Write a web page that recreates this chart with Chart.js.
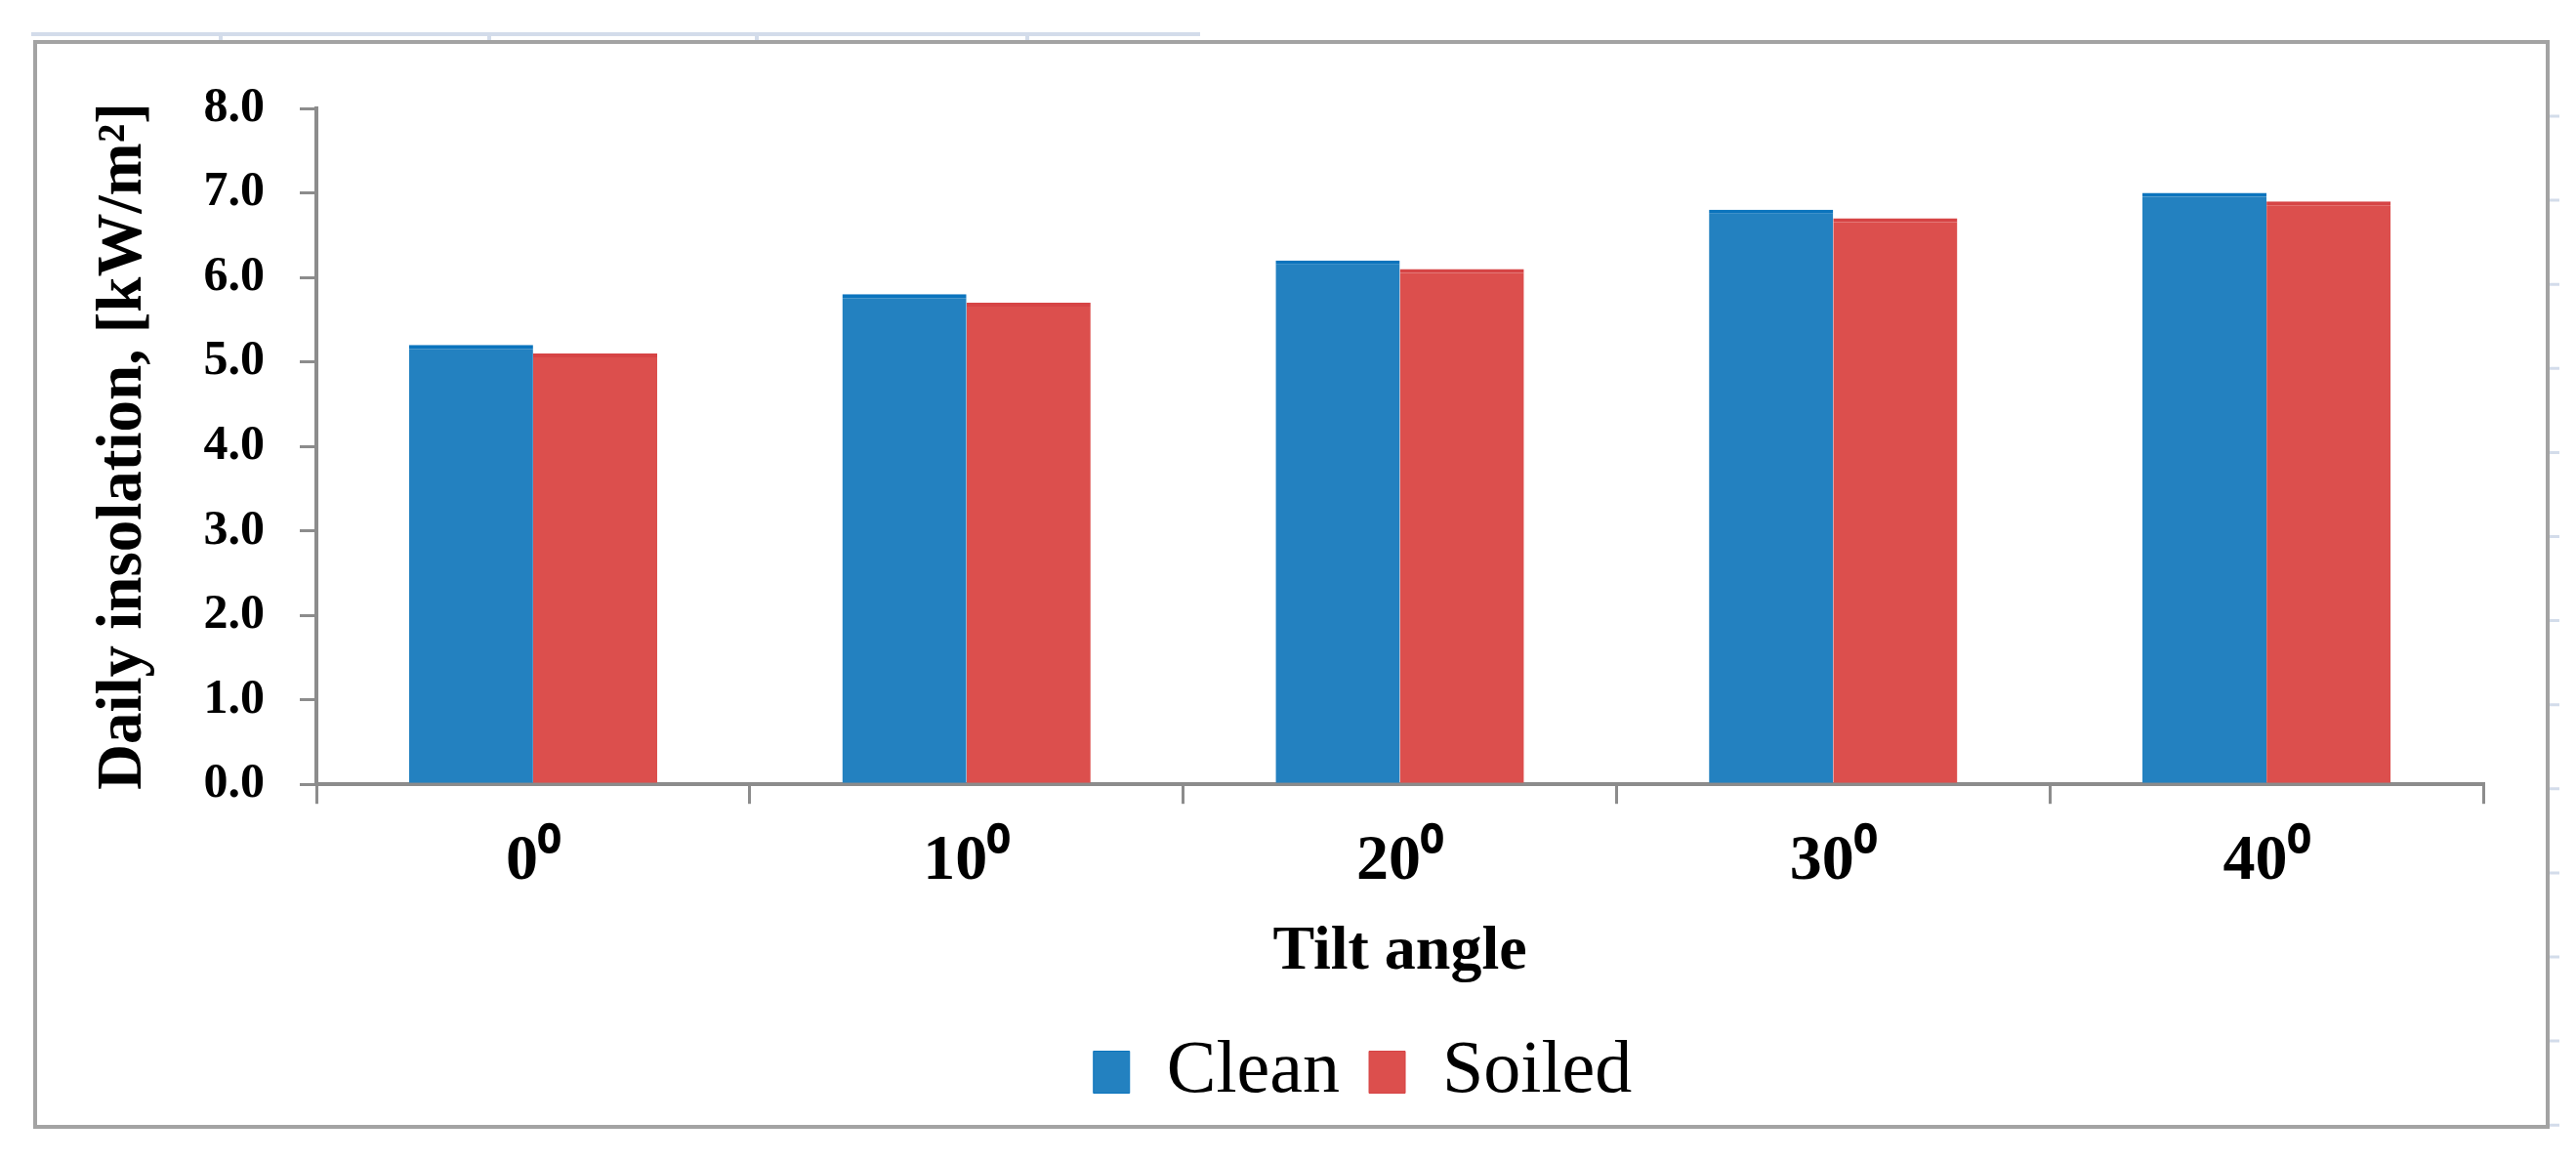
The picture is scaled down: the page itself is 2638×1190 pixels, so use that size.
<!DOCTYPE html>
<html>
<head>
<meta charset="utf-8">
<script src="https://cdn.jsdelivr.net/npm/chart.js@4.4.1/dist/chart.umd.min.js"></script>
<style>
  html, body { margin: 0; padding: 0; background: #fff; }
  canvas { display: block; }
</style>
</head>
<body>
<canvas id="insolationChart" width="2638" height="1190"></canvas>
<script>
/* Data */
const tiltAngles = ['0⁰', '10⁰', '20⁰', '30⁰', '40⁰'];
const cleanValues = [5.2, 5.8, 6.2, 6.8, 7.0];
const soiledValues = [5.1, 5.7, 6.1, 6.7, 6.9];
const yTickLabels = ['0.0', '1.0', '2.0', '3.0', '4.0', '5.0', '6.0', '7.0', '8.0'];

const serif = "'Liberation Serif', 'Times New Roman', serif";
const axisGray = '#8c8c8c';

/* Frame round the chart, plus the faint leftover lines of the source sheet */
const framePlugin = {
  id: 'frame',
  afterLayout(chart) {
    // legend sits a bit left of the plot centre in the original
    chart.legend.left -= 38;
    chart.legend.right -= 38;
  },
  beforeDraw(chart) {
    const ctx = chart.ctx;
    ctx.save();
    ctx.fillStyle = '#fff';
    ctx.fillRect(0, 0, chart.width, chart.height);

    // faint top line with little ticks
    ctx.strokeStyle = '#d3dcea';
    ctx.lineWidth = 4;
    ctx.beginPath();
    ctx.moveTo(32, 35);
    ctx.lineTo(1229, 35);
    [226, 501, 775, 1052].forEach(x => {
      ctx.moveTo(x, 35);
      ctx.lineTo(x, 41);
    });
    ctx.stroke();

    // faint ticks outside the right edge
    ctx.lineWidth = 3;
    ctx.beginPath();
    for (let y = 119; y < 1160; y += 86.1) {
      ctx.moveTo(2611, y);
      ctx.lineTo(2621, y);
    }
    ctx.stroke();

    // grey frame
    ctx.strokeStyle = '#a3a3a3';
    ctx.lineWidth = 4;
    ctx.strokeRect(36, 43, 2573, 1111);
    ctx.restore();
  }
};

const ctx = document.getElementById('insolationChart').getContext('2d');

new Chart(ctx, {
  type: 'bar',
  data: {
    labels: tiltAngles,
    datasets: [
      {
        label: 'Clean',
        data: cleanValues,
        backgroundColor: '#2381c0',
        borderColor: '#0b74bd',
        borderWidth: { top: 4, left: 0, right: 0, bottom: 0 },
        borderSkipped: 'bottom'
      },
      {
        label: 'Soiled',
        data: soiledValues,
        backgroundColor: '#dc4f4d',
        borderColor: '#d64445',
        borderWidth: { top: 4, left: 0, right: 0, bottom: 0 },
        borderSkipped: 'bottom'
      }
    ]
  },
  options: {
    responsive: false,
    devicePixelRatio: 1,
    animation: false,
    layout: {
      padding: { top: 111, left: 40, right: 95, bottom: 44 }
    },
    datasets: {
      bar: { categoryPercentage: 0.573, barPercentage: 1.0 }
    },
    plugins: {
      tooltip: { enabled: false },
      legend: {
        position: 'bottom',
        fullSize: false,
        labels: {
          boxWidth: 37,
          boxHeight: 43,
          padding: 30,
          color: '#000',
          font: { family: serif, size: 76, weight: 'normal' }
        }
      }
    },
    scales: {
      x: {
        grid: {
          drawOnChartArea: false,
          offset: true,
          tickLength: 20,
          color: axisGray,
          lineWidth: 3
        },
        border: { color: axisGray, width: 4 },
        ticks: {
          color: '#000',
          padding: 27,
          font: { family: serif, size: 66, weight: 'bold', lineHeight: 1.0 }
        },
        title: {
          display: true,
          text: 'Tilt angle',
          color: '#000',
          font: { family: serif, size: 64, weight: 'bold' },
          padding: { top: -6, bottom: 16 }
        }
      },
      y: {
        min: 0,
        max: 8,
        grid: {
          drawOnChartArea: false,
          tickLength: 17,
          color: axisGray,
          lineWidth: 3
        },
        border: { color: axisGray, width: 4 },
        ticks: {
          stepSize: 1,
          color: '#000',
          padding: 36,
          font: { family: serif, size: 50, weight: 'bold' },
          callback: (value, index) => yTickLabels[index]
        },
        title: {
          display: true,
          text: 'Daily insolation, [kW/m²]',
          color: '#000',
          font: { family: serif, size: 65, weight: 'bold' },
          padding: { top: 48, bottom: 0 }
        },
        afterFit: scale => { scale.width = 324 - 40; }
      }
    }
  },
  plugins: [framePlugin]
});
</script>
</body>
</html>
